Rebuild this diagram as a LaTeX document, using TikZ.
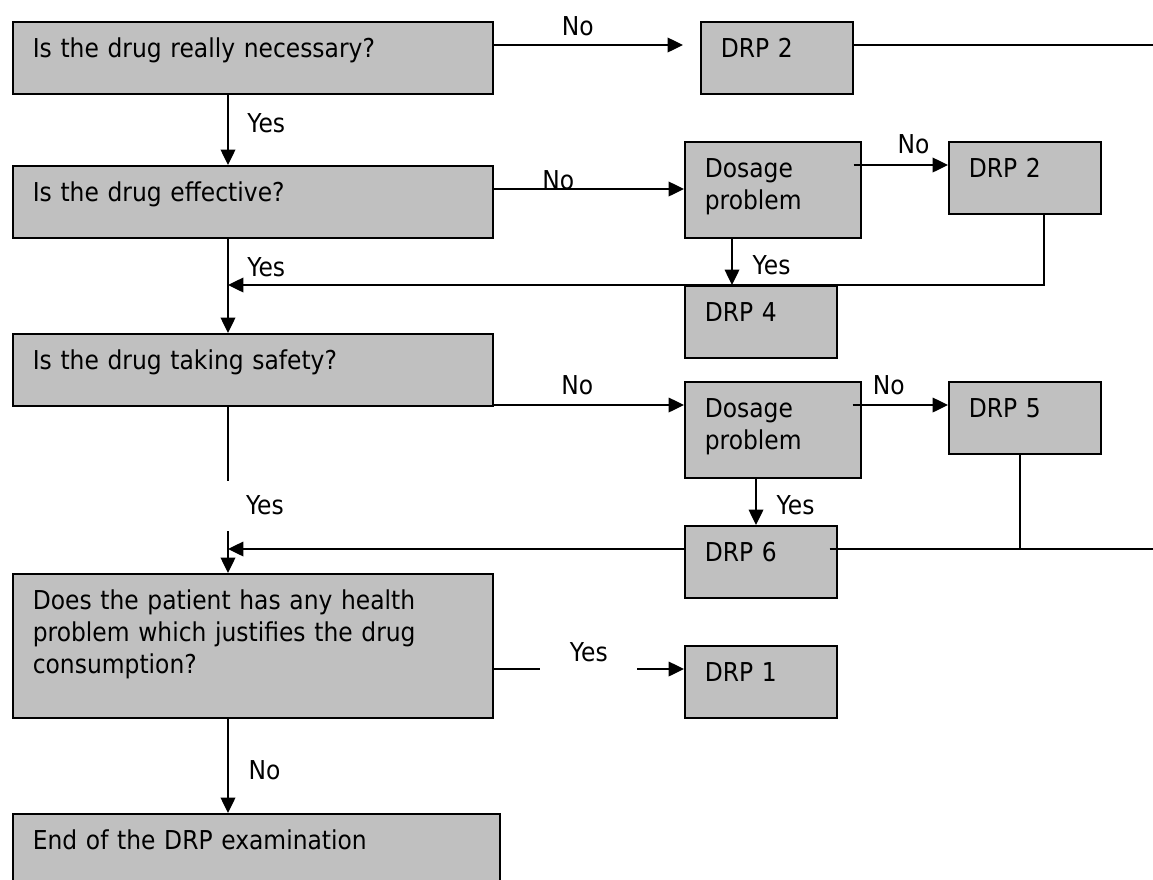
\documentclass[tikz,border=0pt]{standalone}
\usepackage{fontspec}
\setmainfont{DejaVu Sans}[FakeStretch=0.9]
\usepackage{tikz}
\usetikzlibrary{arrows.meta, calc}
\definecolor{boxgray}{RGB}{192,192,192}
\tikzstyle{question}=[draw,line width=1.2pt,fill=boxgray,anchor=north west,text width=330pt,align=left,inner xsep=15pt,inner ysep=0pt,text height=27pt,text depth=27pt]
\tikzstyle{drp}=[question,text width=84pt]
\tikzstyle{dosage}=[question,text width=102pt,text depth=45pt]
\tikzstyle{link}=[line width=1pt,-{Triangle[length=11.5pt,width=11pt]}]
\tikzstyle{plain}=[line width=1pt]
\tikzstyle{answer}=[inner sep=0pt]

\begin{document}
\begin{tikzpicture}[x=0.75pt,y=-0.75pt,font=\fontsize{19.5pt}{24pt}\selectfont]
    \useasboundingbox (0,0) rectangle (1153,879);
    \node [question] (nec) at (12,21) {Is the drug really necessary?};
    \node [question] (eff) at (12,165) {Is the drug effective?};
    \node [question] (safe) at (12,333) {Is the drug taking safety?};
    \node [question,text depth=81pt] (health) at (12,573) {Does the patient has any health\\problem which justifies the drug\\consumption?};
    \node [question,text width=335.25pt] (end) at (12,813) {End of the DRP examination};
    \node [drp] (drp2a) at (700,21) {DRP 2};
    \node [dosage] (dose1) at (684,141) {Dosage\\problem};
    \node [drp] (drp2b) at (948,141) {DRP 2};
    \node [drp] (drp4) at (684,285) {DRP 4};
    \node [dosage] (dose2) at (684,381) {Dosage\\problem};
    \node [drp] (drp5) at (948,381) {DRP 5};
    \node [drp] (drp6) at (684,525) {DRP 6};
    \node [drp] (drp1) at (684,645) {DRP 1};
    \coordinate (spine) at (228,0);
    \coordinate (edgeA) at (1153,45);
    \coordinate (edgeB) at (1153,549);
    % main column
    \draw [link] (spine |- nec.south) -- node [answer,pos=0.4,right=14pt] {Yes} (spine |- eff.north);
    \draw [link] (spine |- eff.south) -- node [answer,pos=0.3,right=14pt] {Yes} (spine |- safe.north);
    \draw [link] (spine |- safe.south) -- node [pos=0.595,anchor=west,xshift=-1pt,fill=white,inner ysep=0pt,inner xsep=14pt,minimum height=37.5pt] {Yes} (spine |- health.north);
    \draw [link] (spine |- health.south) -- node [answer,pos=0.55,right=15pt] {No} (spine |- end.north);
    % first row
    \draw [link] ($(nec.north east)+(0,24)$) -- node [answer,pos=0.445,above=6pt] {No} ($(drp2a.north west)+(-17,24)$);
    \draw [plain] ($(drp2a.north east)+(0,24)$) -- (edgeA);
    % second row
    \draw [link] ($(eff.north east)+(0,24)$) -- node [answer,pos=0.34,above=-1pt] {No} ($(dose1.north west)+(0,48)$);
    \draw [link] ($(dose1.north east)+(-8,24)$) -- node [answer,pos=0.635,above=7.5pt] {No} ($(drp2b.north west)+(0,24)$);
    \draw [link] ($(dose1.south west)+(48,0)$) -- node [answer,pos=0.58,right=15pt] {Yes} ($(drp4.north west)+(48,0)$);
    \draw [link] ($(drp2b.south west)+(96,0)$) |- (spine |- drp4.north);
    % third row
    \draw [link] ($(safe.north east)+(0,72)$) -- node [answer,pos=0.44,above=6.75pt] {No} ($(dose2.north west)+(0,24)$);
    \draw [link] ($(dose2.north east)+(-9,24)$) -- node [answer,pos=0.38,above=6.75pt] {No} ($(drp5.north west)+(0,24)$);
    \draw [link] ($(dose2.south west)+(72,0)$) -- node [answer,pos=0.58,right=15pt] {Yes} ($(drp6.north west)+(72,0)$);
    \draw [plain] ($(drp6.north east)+(-8,24)$) -- (edgeB);
    \draw [plain] ($(drp5.south west)+(72,0)$) |- (edgeB);
    \draw [link] ($(drp6.north west)+(0,24)$) -- (spine |- edgeB);
    % fourth row
    \draw [link] ($(health.north east)+(0,96)$) -- node [pos=0.5,yshift=12.75pt,fill=white,inner sep=0pt,minimum width=72.75pt,minimum height=30pt] {Yes} ($(drp1.north west)+(0,24)$);
\end{tikzpicture}
\end{document}
